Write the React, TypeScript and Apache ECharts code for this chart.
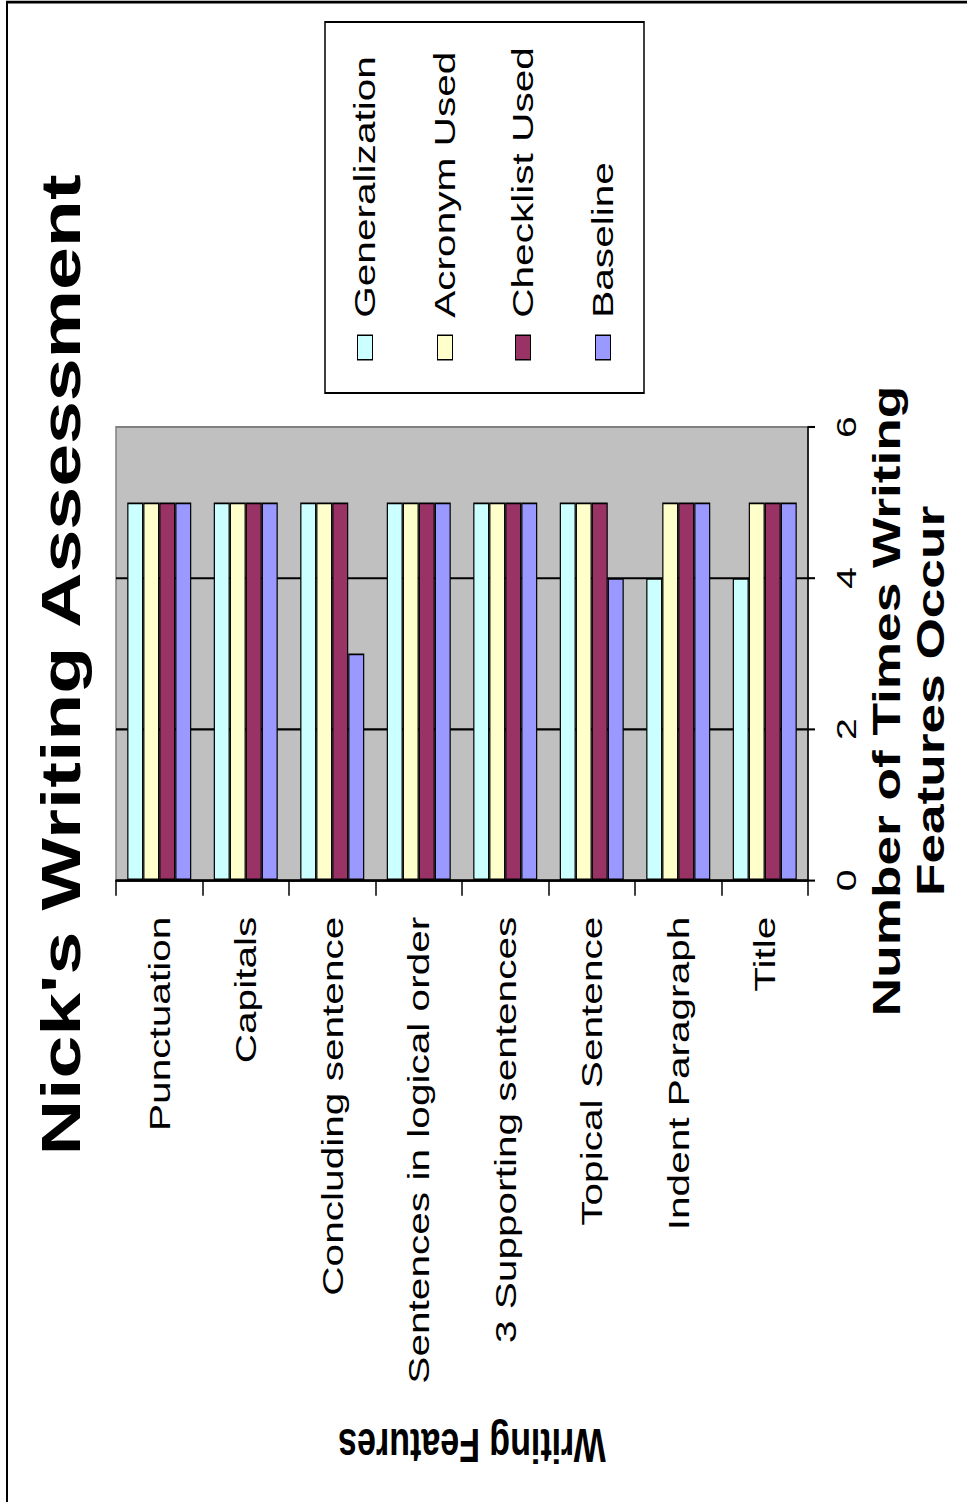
import React, { useEffect, useRef } from "react";
import * as echarts from "echarts";

const categories = [
  "Punctuation",
  "Capitals",
  "Concluding sentence",
  "Sentences in logical order",
  "3 Supporting sentences",
  "Topical Sentence",
  "Indent Paragraph",
  "Title",
];
const generalization = [5, 5, 5, 5, 5, 5, 4, 4];
const acronymUsed = [5, 5, 5, 5, 5, 5, 5, 5];
const checklistUsed = [5, 5, 5, 5, 5, 5, 5, 5];
const baseline = [5, 5, 3, 5, 5, 4, 5, 5];
const seriesNames = ["Generalization", "Acronym Used", "Checklist Used", "Baseline"];
const seriesColors = ["#CCFFFF", "#FFFFCC", "#993366", "#9999FF"];
const valueTicks = [0, 2, 4, 6];
const chartTitle = "Nick's Writing Assessment";
const valueAxisTitle = ["Number of Times Writing", "Features Occur"];
const categoryAxisTitle = "Writing Features";

const W = 967;
const H_OUT = 1502;
const K = 1.4; // vertical stretch of the original picture
const H = H_OUT / K;
const FONT = "'Liberation Sans', Arial, sans-serif";

export default function App() {
  const ref = useRef<HTMLDivElement>(null);
  useEffect(() => {
    if (!ref.current) return;
    const chart = echarts.init(ref.current, undefined, { renderer: "svg" });
    const data = [generalization, acronymUsed, checklistUsed, baseline];
    const legendX = [365, 445, 523, 603];
    const legendGraphics: any[] = [];
    seriesNames.forEach((n, i) => {
      legendGraphics.push({
        type: "rect",
        shape: { x: legendX[i] - 7.5, y: 239.5, width: 15, height: 17.5 },
        style: { fill: seriesColors[i], stroke: "#000", lineWidth: 1 },
      });
      legendGraphics.push({
        type: "text",
        x: legendX[i],
        y: 227,
        rotation: Math.PI / 2,
        style: {
          text: n,
          font: `29px ${FONT}`,
          fill: "#000",
          align: "left",
          verticalAlign: "middle",
        },
      });
    });
    chart.setOption({
      animation: false,
      backgroundColor: "#fff",
      textStyle: { fontFamily: FONT },
      grid: {
        left: 116,
        right: W - 808,
        top: 305,
        bottom: H - 628.6,
        show: true,
        backgroundColor: "#C0C0C0",
        borderColor: "#808080",
        borderWidth: 1.5,
        outerBoundsMode: "none",
        containLabel: false,
      },
      xAxis: {
        type: "category",
        data: categories,
        position: "bottom",
        axisLine: { lineStyle: { color: "#000", width: 1.5 } },
        axisTick: { show: true, length: 11, lineStyle: { color: "#000", width: 1.5 } },
        axisLabel: {
          rotate: 90,
          fontSize: 29,
          color: "#000",
          margin: 26,
          fontFamily: FONT,
          interval: 0,
        },
      },
      yAxis: {
        type: "value",
        position: "right",
        min: 0,
        max: 6,
        interval: 2,
        axisLine: { show: true, lineStyle: { color: "#000", width: 1.5 } },
        axisTick: { show: true, length: 7, lineStyle: { color: "#000", width: 1.5 } },
        axisLabel: {
          rotate: 90,
          fontSize: 28,
          color: "#000",
          margin: 24,
          fontFamily: FONT,
          formatter: (v: number) => (valueTicks.includes(v) ? String(v) : ""),
        },
        splitLine: {
          show: true,
          lineStyle: { color: ["#000", "#000", "#000", "#808080"], width: 1.5 },
        },
      },
      series: seriesNames.map((n, i) => ({
        name: n,
        type: "bar",
        data: data[i],
        barGap: "0%",
        barCategoryGap: "26%",
        itemStyle: { color: seriesColors[i], borderColor: "#000", borderWidth: 1.2 },
      })),
      graphic: [
        {
          type: "rect",
          shape: { x: 7, y: 1.5, width: 1100, height: 1200 },
          style: { fill: "none", stroke: "#000", lineWidth: 2 },
          z: 100,
        },
        {
          type: "text",
          x: 61,
          y: 475,
          rotation: Math.PI / 2,
          style: {
            text: chartTitle,
            font: `bold 55px ${FONT}`,
            fill: "#000",
            align: "center",
            verticalAlign: "middle",
          },
        },
        {
          type: "text",
          x: 909,
          y: 701 / K,
          rotation: Math.PI / 2,
          style: {
            text: valueAxisTitle.join("\n"),
            font: `bold 38px ${FONT}`,
            lineHeight: 44,
            fill: "#000",
            align: "center",
            verticalAlign: "middle",
          },
        },
        {
          type: "text",
          x: 472,
          y: 1445 / K,
          rotation: Math.PI,
          style: {
            text: categoryAxisTitle,
            font: `bold 34px ${FONT}`,
            fill: "#000",
            align: "center",
            verticalAlign: "middle",
          },
        },
        {
          type: "rect",
          shape: { x: 325, y: 15.7, width: 319, height: 265 },
          style: { fill: "#fff", stroke: "#000", lineWidth: 1.5 },
        },
        ...legendGraphics,
      ],
    });
    return () => chart.dispose();
  }, []);
  return (
    <div
      style={{
        position: "absolute",
        left: 0,
        top: 0,
        width: W,
        height: H_OUT,
        overflow: "hidden",
        background: "#fff",
      }}
    >
      <div
        ref={ref}
        style={{
          width: W,
          height: H,
          transform: `scaleY(${K})`,
          transformOrigin: "0 0",
        }}
      />
    </div>
  );
}
